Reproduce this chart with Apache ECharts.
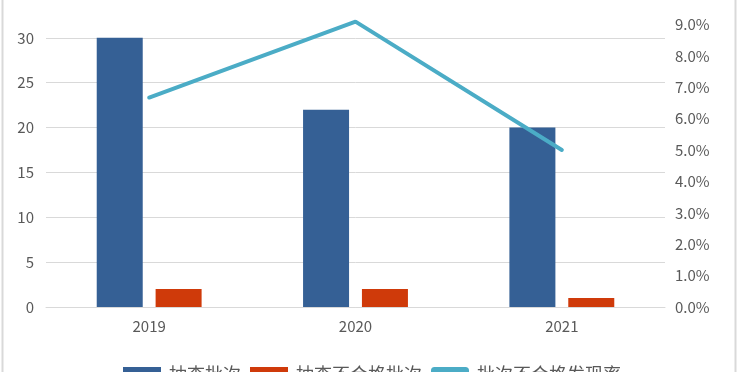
<!DOCTYPE html>
<html>
<head>
<meta charset="utf-8">
<script src="https://cdn.jsdelivr.net/npm/echarts@6/dist/echarts.min.js"></script>
<style>html,body{margin:0;padding:0;background:#fff;}#c{width:738px;height:372px;}</style>
</head>
<body>
<div id="c"></div>
<script>
var categories = ['2019', '2020', '2021'];
var sampledBatches = [30, 22, 20];
var failedBatches = [2, 2, 1];
var failRate = [0.0667, 0.0909, 0.05];
var seriesNames = ['抽查批次', '抽查不合格批次', '批次不合格发现率'];

var chart = echarts.init(document.getElementById('c'), null, {renderer: 'canvas'});
var fontFam = '"Microsoft YaHei","Noto Sans CJK SC","Open Sans",sans-serif';
chart.setOption({
  animation: false,
  backgroundColor: '#fff',
  graphic: [{
    type: 'rect', shape: {x: 2.5, y: -5, width: 733, height: 390},
    style: {fill: 'none', stroke: '#d9d9d9', lineWidth: 2}, silent: true
  }],
  grid: {left: 46, right: 73, top: -7, bottom: 65, outerBoundsMode: 'none', containLabel: false},
  legend: {
    top: 365, left: 123, padding: 0, itemWidth: 38, itemHeight: 14, itemGap: 9,
    textStyle: {fontSize: 18, color: '#595959', fontFamily: fontFam, padding: [0, 0, 0, 3]},
    data: [
      {name: seriesNames[0], icon: 'rect'},
      {name: seriesNames[1], icon: 'rect'},
      {name: seriesNames[2], icon: 'roundRect'}
    ]
  },
  xAxis: {
    type: 'category', data: categories,
    axisLine: {lineStyle: {color: '#d9d9d9', width: 1}},
    axisTick: {show: false},
    axisLabel: {color: '#595959', fontSize: 15, margin: 12, fontFamily: fontFam}
  },
  yAxis: [{
    type: 'value', min: 0, max: 35, interval: 5,
    axisLine: {show: false}, axisTick: {show: false},
    axisLabel: {color: '#595959', fontSize: 15, margin: 12, fontFamily: fontFam},
    splitLine: {lineStyle: {color: '#d9d9d9', width: 1}}
  }, {
    type: 'value', min: 0, max: 0.1, interval: 0.01,
    axisLine: {show: false}, axisTick: {show: false},
    axisLabel: {color: '#595959', fontSize: 15, margin: 10, fontFamily: fontFam,
      formatter: function (v) { return (v * 100).toFixed(1) + '%'; }},
    splitLine: {show: false}
  }],
  series: [{
    name: seriesNames[0], type: 'bar', data: sampledBatches, barWidth: 46, barGap: '28%',
    itemStyle: {color: '#356095'}
  }, {
    name: seriesNames[1], type: 'bar', data: failedBatches, barWidth: 46,
    itemStyle: {color: '#cf3a0a'}
  }, {
    name: seriesNames[2], type: 'line', yAxisIndex: 1, data: failRate,
    symbol: 'none', lineStyle: {color: '#4bacc6', width: 4, cap: 'round'},
    itemStyle: {color: '#4bacc6'}
  }]
});
</script>
</body>
</html>
